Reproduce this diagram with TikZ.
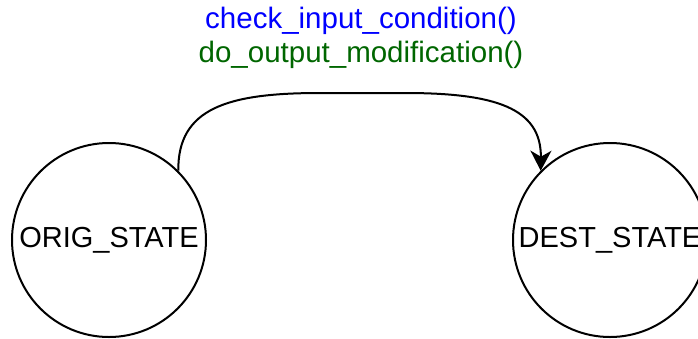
\documentclass[tikz,border=0pt]{standalone}
\usepackage{fontspec}
\setmainfont{Liberation Sans}
\usetikzlibrary{arrows.meta}
\definecolor{lblblue}{RGB}{0,0,255}
\definecolor{lblgreen}{RGB}{0,102,0}
\begin{document}
\begin{tikzpicture}[x=1pt,y=-1pt,
  statenode/.style={circle,draw=black,line width=2pt,minimum size=194pt,inner sep=0pt,
    font=\fontsize{29}{33}\selectfont},
  lbl/.style={font=\fontsize{29.5}{33}\selectfont,inner sep=0pt},
  trans/.style={line width=2pt,-{Stealth[length=20pt,width=21pt,inset=6pt]}}]
\useasboundingbox (0,0) rectangle (698,338);
\node[statenode] (orig) at (109,240) {ORIG\_STATE};
\node[statenode] (dest) at (610,240) {DEST\_STATE};
\node[lbl,text=lblblue] (cond) at (361,21) {check\_input\_condition()};
\node[lbl,text=lblgreen] (act) at (361,55) {do\_output\_modification()};
\coordinate (topl) at (320,93);
\coordinate (topr) at (405,93);
\draw[trans] (orig.45) .. controls (177.6,108) and (228,93) .. (topl) -- (topr)
  .. controls (495,93) and (541.4,108) .. (dest.135);
\end{tikzpicture}
\end{document}
